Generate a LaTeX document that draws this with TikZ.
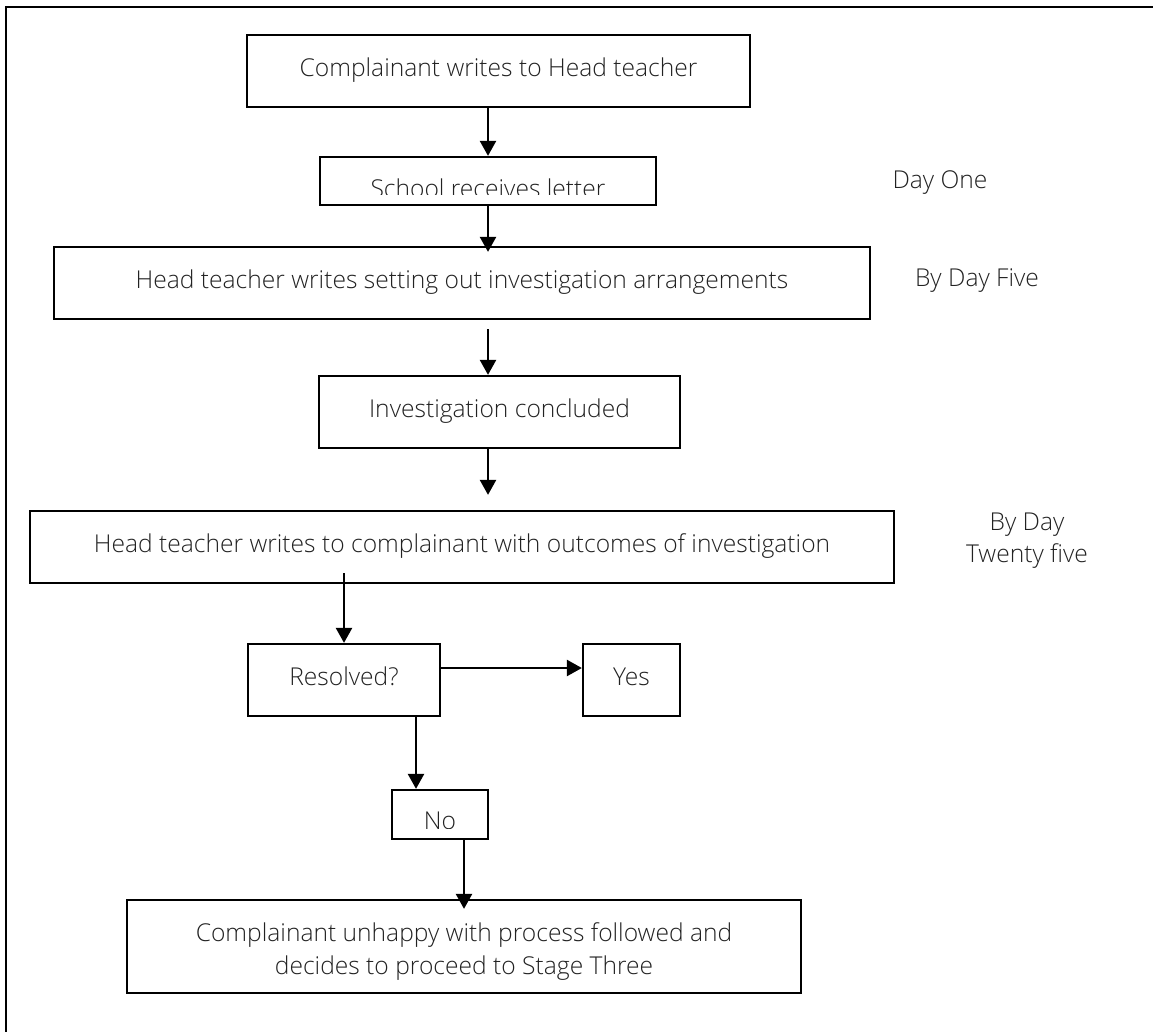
\documentclass[tikz,border=0pt]{standalone}
\usepackage{fontspec}
\IfFontExistsTF{Open Sans Light}{\setmainfont{Open Sans Light}}{\setmainfont{Open Sans}}
\usetikzlibrary{arrows.meta,calc}
\definecolor{txt}{HTML}{222222}
\begin{document}
\begin{tikzpicture}[x=1pt,y=-1pt,
  box/.style={draw=black, line width=2.3pt, inner sep=0pt, text=txt,
    font=\fontsize{24.6}{33}\selectfont, text height=17.5pt, text depth=6.5pt},
  arr/.style={draw=black, line width=2.5pt, -{Triangle[length=15pt,width=16pt]}},
  lbl/.style={text=txt, font=\fontsize{24.6}{33}\selectfont, inner sep=0pt, anchor=base}]
\useasboundingbox (0,0) rectangle (1153,1032);
\draw[line width=2.2pt] (6,1032) -- (6,7) -- (1153,7);

\coordinate (xm) at (488,0);
\coordinate (xe) at (344,0);
\coordinate (xf) at (416,0);
\coordinate (xn) at (464,0);
\coordinate (yr) at (0,668);

\node[box, minimum width=503pt, minimum height=72pt] (A) at (498.5,71) {Complainant writes to Head teacher};
\node[box, minimum width=336pt, minimum height=48pt,
  path picture={\clip ([yshift=10pt]path picture bounding box.south west) rectangle (path picture bounding box.north east);
    \node[lbl] at ([yshift=7pt]path picture bounding box.south) {School receives letter};}] (B) at (488,181) {};
\node[box, minimum width=816pt, minimum height=72pt] (C) at (462,283) {Head teacher writes setting out investigation arrangements};
\node[box, minimum width=361pt, minimum height=72pt] (D) at (499.5,412) {Investigation concluded};
\node[box, minimum width=864pt, minimum height=72pt] (E) at (462,547) {Head teacher writes to complainant with outcomes of investigation};
\node[box, minimum width=192pt, minimum height=72pt] (F) at (344,680) {Resolved?};
\node[box, minimum width=97pt, minimum height=72pt] (Y) at (631.5,680) {Yes};
\node[box, minimum width=96pt, minimum height=49pt,
  path picture={\clip ([yshift=11pt]path picture bounding box.south west) rectangle (path picture bounding box.north east);
    \node[lbl] at ([yshift=9.5pt]path picture bounding box.south) {No};}] (N) at (440,814.5) {};
\node[box, minimum width=674pt, minimum height=93pt, align=center, text height=, text depth=] (G) at (464,946.5) {\rule{0pt}{28pt}Complainant unhappy with process followed and\\decides to proceed to Stage Three};

\node[lbl] (d1) at (940,189) {Day One};
\node[lbl] (d5) at (977,287) {By Day Five};
\node[lbl] (d25a) at (1027,530) {By Day};
\node[lbl] (d25b) at (1027,562) {Twenty five};

\draw[arr] (A.south -| xm) -- (B.north -| xm);
\draw[arr] (B.south -| xm) -- ($(C.north -| xm)+(0,6)$);
\draw[arr] ($(C.south -| xm)+(0,9)$) -- (D.north -| xm);
\draw[arr] (D.south -| xm) -- ($(E.north -| xm)+(0,-15)$);
\draw[arr] ($(E.south -| xe)+(0,-11)$) -- (F.north -| xe);
\draw[arr] (F.east |- yr) -- (Y.west |- yr);
\draw[arr] (F.south -| xf) -- (N.north -| xf);
\draw[arr] (N.south -| xn) -- ($(G.north -| xn)+(0,10)$);
\end{tikzpicture}
\end{document}
